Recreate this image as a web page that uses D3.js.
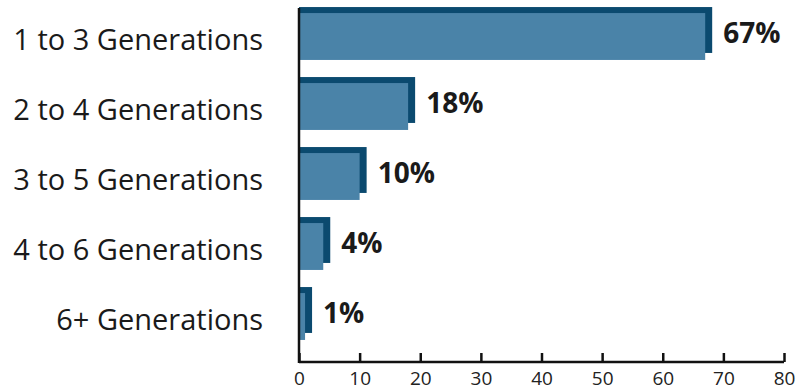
<!DOCTYPE html>
<html>
<head>
<meta charset="utf-8">
<script src="https://cdn.jsdelivr.net/npm/d3@7"></script>
<style>
  body { margin: 0; background: #fff; }
  svg { display: block; }
</style>
</head>
<body>
<div id="chart"></div>
<script>
// chart values
var categories = ["1 to 3 Generations", "2 to 4 Generations", "3 to 5 Generations", "4 to 6 Generations", "6+ Generations"];
var values = [67, 18, 10, 4, 1];
var tickValues = [0, 10, 20, 30, 40, 50, 60, 70, 80];

var width = 800, height = 392;
var axisX = 299, axisY = 362;

var svg = d3.select("#chart").append("svg")
    .attr("width", width)
    .attr("height", height);

var x = d3.scaleLinear().domain([0, 80]).range([axisX, 784]);
var y = d3.scaleBand().domain(categories).range([1.5, 351.5])
    .paddingInner(0.33).paddingOuter(0.165);

var data = categories.map(function(c, i) { return { cat: c, val: values[i] }; });

// dark "shadow" bar behind, shifted right/up
var dx = 7, dy = -6;
svg.selectAll(".back").data(data).enter().append("rect")
    .attr("class", "back")
    .attr("x", axisX)
    .attr("y", function(d) { return y(d.cat) + dy; })
    .attr("width", function(d) { return x(d.val) - axisX + dx; })
    .attr("height", y.bandwidth() - 1)
    .style("fill", "#0b4a6f");

svg.selectAll(".front").data(data).enter().append("rect")
    .attr("class", "front")
    .attr("x", axisX)
    .attr("y", function(d) { return y(d.cat); })
    .attr("width", function(d) { return x(d.val) - axisX; })
    .attr("height", y.bandwidth())
    .style("fill", "#4a83a8");

// value labels
svg.selectAll(".val").data(data).enter().append("text")
    .attr("class", "val")
    .attr("x", function(d) { return x(d.val) + 18; })
    .attr("y", function(d) { return y(d.cat) + y.bandwidth() / 2 + 6.5; })
    .style("font-family", "'Open Sans', sans-serif")
    .style("font-weight", "bold")
    .style("font-size", "28px")
    .style("fill", "#1a1a1a")
    .text(function(d) { return d.val + "%"; });

// category labels
svg.selectAll(".cat").data(data).enter().append("text")
    .attr("class", "cat")
    .attr("x", 263)
    .attr("y", function(d) { return y(d.cat) + y.bandwidth() / 2 + 13.5; })
    .attr("text-anchor", "end")
    .style("font-family", "'Open Sans', sans-serif")
    .style("font-size", "29px")
    .style("fill", "#1a1a1a")
    .text(function(d) { return d.cat; });

// x axis
var xAxis = d3.axisBottom(x).tickValues(tickValues).tickSize(-9).tickPadding(10);
var gx = svg.append("g").attr("transform", "translate(0," + axisY + ")").call(xAxis);
gx.select(".domain").attr("d", "M" + axisX + ",0H784").style("stroke", "#111").style("stroke-width", 2.5);
gx.selectAll(".tick line").style("stroke", "#111").style("stroke-width", 2.5);
gx.selectAll(".tick text")
    .style("font-family", "'Open Sans', sans-serif")
    .style("font-size", "19px")
    .style("fill", "#222");

// y axis line
svg.append("line")
    .attr("x1", axisX).attr("x2", axisX)
    .attr("y1", 8).attr("y2", axisY + 1)
    .style("stroke", "#111")
    .style("stroke-width", 2.5);
</script>
</body>
</html>
